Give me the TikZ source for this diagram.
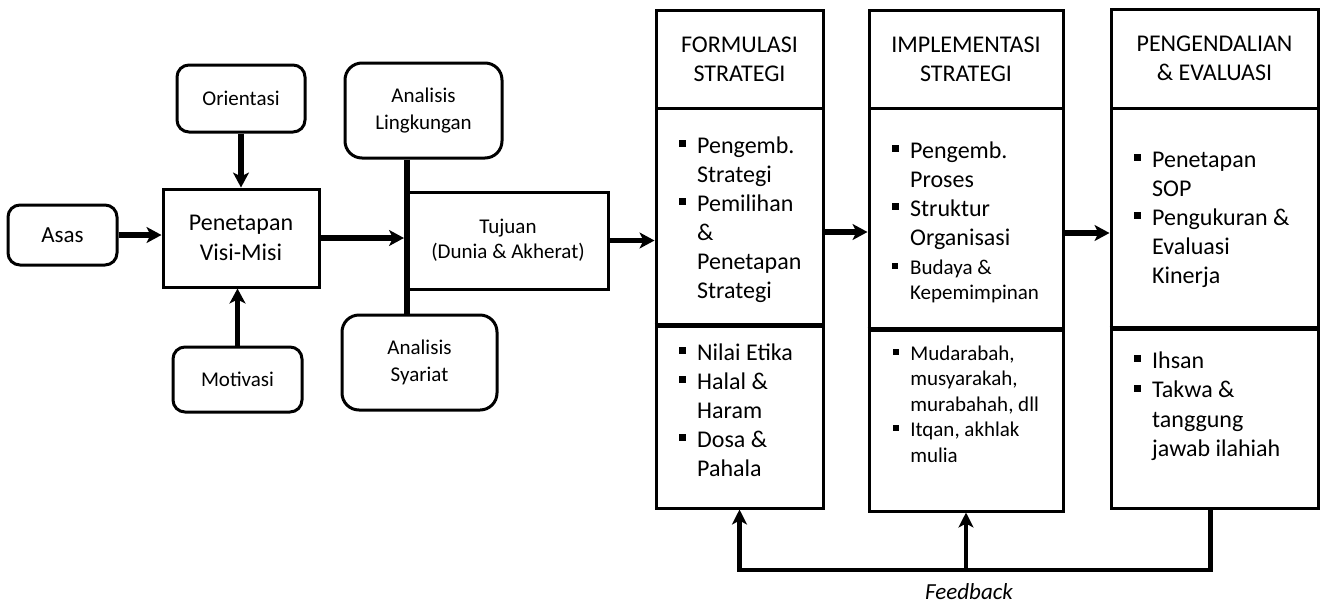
\documentclass[tikz,border=0pt]{standalone}
\usepackage{fontspec}
\setmainfont{Carlito}
\usetikzlibrary{arrows.meta,calc}
\newcommand\fsz[2]{\fontsize{#1}{#2}\selectfont}
\newcommand\bul{\raisebox{0.25em}{\rule{0.29em}{0.29em}}}
\begin{document}
\begin{tikzpicture}[x=1pt,y=-1pt,line join=miter]
\tikzset{
 rbox/.style={draw, line width=3pt, rounded corners=12pt, inner sep=0pt, align=center},
 sbox/.style={draw, line width=3pt, inner sep=0pt, align=center},
 cell/.style={draw, line width=3pt, inner sep=0pt},
 divider/.style={line width=4.5pt},
 arr/.style={line width=5.5pt, -{Stealth[length=15pt,width=16pt,inset=4pt]}},
 fbarr/.style={line width=4.5pt, -{Stealth[length=15pt,width=15pt,inset=4pt]}},
 btext/.style={inner sep=0pt, anchor=base west},
}
\useasboundingbox (0,0) rectangle (1323,603);

% left part
\node[rbox, minimum width=109pt, minimum height=60pt, font=\fsz{23}{28}] (asas) at (62.5,235) {Asas};
\node[rbox, minimum width=128pt, minimum height=67pt, font=\fsz{21}{26}] (ori) at (241,98.5) {Orientasi};
\node[sbox, minimum width=156pt, minimum height=98pt, font=\fsz{24}{30}] (visi) at (241,238) {Penetapan\\Visi-Misi};
\node[rbox, minimum width=129pt, minimum height=65pt, font=\fsz{21}{26}] (moti) at (237.5,379.5) {Motivasi};
\node[rbox, rounded corners=17pt, minimum width=157pt, minimum height=95pt, font=\fsz{21}{27}] (al) at (423.5,110.5) {Analisis\\Lingkungan};
\node[rbox, rounded corners=17pt, minimum width=155pt, minimum height=95pt, font=\fsz{21}{27}] (as) at (419.5,362.5) {Analisis\\Syariat};
\node[sbox, minimum width=200pt, minimum height=97pt, font=\fsz{21}{25}] (tuj) at (508,240.5) {Tujuan\\(Dunia \& Akherat)};

\coordinate (sp) at (407,240);
\draw[line width=6pt] (al.south -| sp) -- (as.north -| sp);

% columns
\node[cell, minimum width=167pt, minimum height=98pt, align=center, font=\fsz{24}{29}] (fhead) at (739.5,59) {FORMULASI\\STRATEGI};
\node[cell, minimum width=167pt, minimum height=216pt] (fbody) at (739.5,216) {};
\node[cell, minimum width=167pt, minimum height=184pt] (flow) at (739.5,416) {};

\node[cell, minimum width=194pt, minimum height=98pt, align=center, font=\fsz{24}{29}] (ihead) at (966,59) {IMPLEMENTASI\\STRATEGI};
\node[cell, minimum width=194pt, minimum height=220pt] (ibody) at (966,218) {};
\node[cell, minimum width=194pt, minimum height=183pt] (ilow) at (966,419.5) {};

\node[cell, minimum width=207pt, minimum height=99pt, align=center, font=\fsz{24}{29}] (phead) at (1214.5,58.5) {PENGENDALIAN\\\& EVALUASI};
\node[cell, minimum width=207pt, minimum height=219pt] (pbody) at (1214.5,217.5) {};
\node[cell, minimum width=207pt, minimum height=181pt] (plow) at (1214.5,417.5) {};

\draw[divider] (fbody.south west) -- (fbody.south east);
\draw[divider] (ibody.south west) -- (ibody.south east);
\draw[divider] (pbody.south west) -- (pbody.south east);

% column texts
\node[btext, font=\fsz{24}{29}] (ftx) at (679,153) {\begin{tabular}[t]{@{}l@{\hspace{11pt}}l@{}}
\bul & Pengemb.\\
 & Strategi\\
\bul & Pemilihan\\
 & \&\\
 & Penetapan\\
 & Strategi
\end{tabular}};
\node[btext, font=\fsz{24}{29}] (itx) at (892,158) {\begin{tabular}[t]{@{}l@{\hspace{11pt}}l@{}}
\bul & Pengemb.\\
 & Proses\\
\bul & Struktur\\
 & Organisasi\\
\fsz{21}{25}\bul & \fsz{21}{25}Budaya \&\\[-4pt]
 & \fsz{21}{25}Kepemimpinan
\end{tabular}};
\node[btext, font=\fsz{24}{29}] (ptx) at (1134,167) {\begin{tabular}[t]{@{}l@{\hspace{11pt}}l@{}}
\bul & Penetapan\\
 & SOP\\
\bul & Pengukuran \&\\
 & Evaluasi\\
 & Kinerja
\end{tabular}};
\node[btext, font=\fsz{24}{29}] (flx) at (679,360) {\begin{tabular}[t]{@{}l@{\hspace{11pt}}l@{}}
\bul & Nilai Etika\\
\bul & Halal \&\\
 & Haram\\
\bul & Dosa \&\\
 & Pahala
\end{tabular}};
\node[btext, font=\fsz{21}{25.5}] (ilx) at (893,360) {\begin{tabular}[t]{@{}l@{\hspace{11pt}}l@{}}
\bul & Mudarabah,\\
 & musyarakah,\\
 & murabahah, dll\\
\bul & Itqan, akhlak\\
 & mulia
\end{tabular}};
\node[btext, font=\fsz{24}{29.5}] (plx) at (1134,368) {\begin{tabular}[t]{@{}l@{\hspace{11pt}}l@{}}
\bul & Ihsan\\
\bul & Takwa \&\\
 & tanggung\\
 & jawab ilahiah
\end{tabular}};

% arrows
\draw[arr] (asas.east) -- (asas.east -| visi.west);
\draw[arr] (ori.south) -- (ori.south |- visi.north);
\draw[arr] (moti.north) -- (moti.north |- visi.south);
\draw[arr, shorten >=3pt] (visi.east) -- (visi.east -| sp);
\draw[arr] (tuj.east) -- (tuj.east -| fbody.west);
\coordinate (fa) at ($(fbody.east)+(0,16)$);
\draw[arr] (fa) -- (fa -| ibody.west);
\coordinate (ia) at ($(ibody.east)+(0,15)$);
\draw[arr] (ia) -- (ia -| pbody.west);

% feedback
\coordinate (fb) at (966,570);
\draw[fbarr] ([xshift=-4pt]plow.south) |- (fb) -| (flow.south);
\draw[fbarr] (fb) -- (ilow.south);
\node[font=\itshape\fsz{23}{28}, anchor=base, inner sep=0pt] (fbl) at (969,599) {Feedback};
\end{tikzpicture}
\end{document}
